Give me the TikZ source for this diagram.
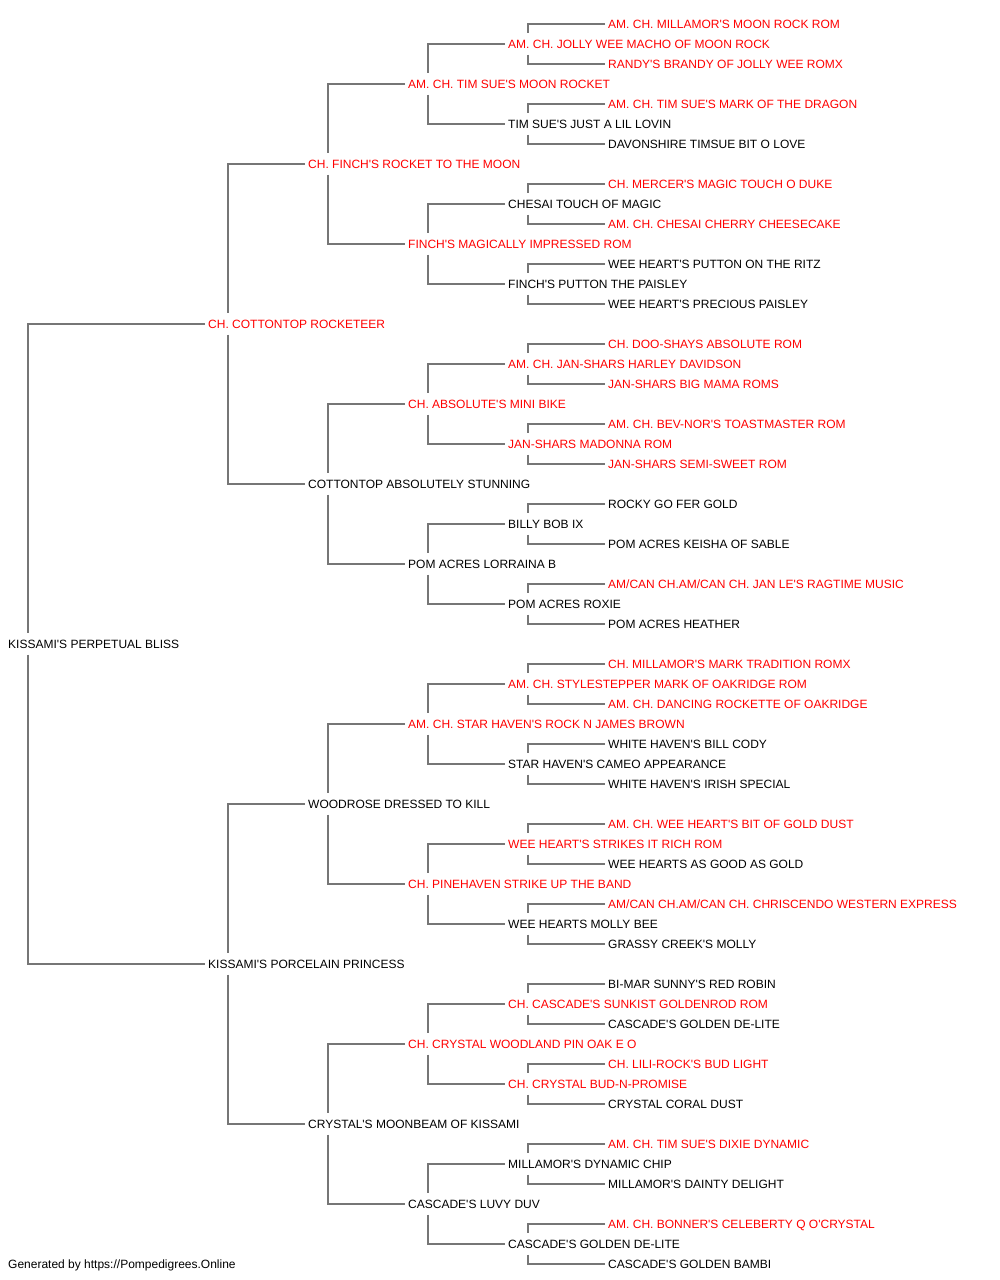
\documentclass[tikz,border=0pt]{standalone}
\usepackage{fontspec}
\setmainfont{Liberation Sans}[Ligatures=TeXOff]
\definecolor{pedred}{RGB}{255,0,0}
\definecolor{linegray}{RGB}{118,118,118}
\tikzset{
  nm/.style={anchor=west, inner xsep=3pt, inner ysep=0pt, text height=8.6pt, text depth=0pt,
    minimum height=21pt, font=\fontsize{12}{14}\selectfont},
  rd/.style={nm, text=pedred},
  bk/.style={nm, text=black},
  conn/.style={draw=linegray, line width=2pt}
}
\begin{document}
\begin{tikzpicture}[x=1pt,y=-1pt]
\useasboundingbox (0,0) rectangle (1000,1280);
\node[rd] (n0) at (605,24) {AM. CH. MILLAMOR'S MOON ROCK ROM};
\node[rd] (n1) at (505,44) {AM. CH. JOLLY WEE MACHO OF MOON ROCK};
\node[rd] (n2) at (605,64) {RANDY'S BRANDY OF JOLLY WEE ROMX};
\node[rd] (n3) at (405,84) {AM. CH. TIM SUE'S MOON ROCKET};
\node[rd] (n4) at (605,104) {AM. CH. TIM SUE'S MARK OF THE DRAGON};
\node[bk] (n5) at (505,124) {TIM SUE'S JUST A LIL LOVIN};
\node[bk] (n6) at (605,144) {DAVONSHIRE TIMSUE BIT O LOVE};
\node[rd] (n7) at (305,164) {CH. FINCH'S ROCKET TO THE MOON};
\node[rd] (n8) at (605,184) {CH. MERCER'S MAGIC TOUCH O DUKE};
\node[bk] (n9) at (505,204) {CHESAI TOUCH OF MAGIC};
\node[rd] (n10) at (605,224) {AM. CH. CHESAI CHERRY CHEESECAKE};
\node[rd] (n11) at (405,244) {FINCH'S MAGICALLY IMPRESSED ROM};
\node[bk] (n12) at (605,264) {WEE HEART'S PUTTON ON THE RITZ};
\node[bk] (n13) at (505,284) {FINCH'S PUTTON THE PAISLEY};
\node[bk] (n14) at (605,304) {WEE HEART'S PRECIOUS PAISLEY};
\node[rd] (n15) at (205,324) {CH. COTTONTOP ROCKETEER};
\node[rd] (n16) at (605,344) {CH. DOO-SHAYS ABSOLUTE ROM};
\node[rd] (n17) at (505,364) {AM. CH. JAN-SHARS HARLEY DAVIDSON};
\node[rd] (n18) at (605,384) {JAN-SHARS BIG MAMA ROMS};
\node[rd] (n19) at (405,404) {CH. ABSOLUTE'S MINI BIKE};
\node[rd] (n20) at (605,424) {AM. CH. BEV-NOR'S TOASTMASTER ROM};
\node[rd] (n21) at (505,444) {JAN-SHARS MADONNA ROM};
\node[rd] (n22) at (605,464) {JAN-SHARS SEMI-SWEET ROM};
\node[bk] (n23) at (305,484) {COTTONTOP ABSOLUTELY STUNNING};
\node[bk] (n24) at (605,504) {ROCKY GO FER GOLD};
\node[bk] (n25) at (505,524) {BILLY BOB IX};
\node[bk] (n26) at (605,544) {POM ACRES KEISHA OF SABLE};
\node[bk] (n27) at (405,564) {POM ACRES LORRAINA B};
\node[rd] (n28) at (605,584) {AM/CAN CH.AM/CAN CH. JAN LE'S RAGTIME MUSIC};
\node[bk] (n29) at (505,604) {POM ACRES ROXIE};
\node[bk] (n30) at (605,624) {POM ACRES HEATHER};
\node[bk] (n31) at (5,644) {KISSAMI'S PERPETUAL BLISS};
\node[rd] (n32) at (605,664) {CH. MILLAMOR'S MARK TRADITION ROMX};
\node[rd] (n33) at (505,684) {AM. CH. STYLESTEPPER MARK OF OAKRIDGE ROM};
\node[rd] (n34) at (605,704) {AM. CH. DANCING ROCKETTE OF OAKRIDGE};
\node[rd] (n35) at (405,724) {AM. CH. STAR HAVEN'S ROCK N JAMES BROWN};
\node[bk] (n36) at (605,744) {WHITE HAVEN'S BILL CODY};
\node[bk] (n37) at (505,764) {STAR HAVEN'S CAMEO APPEARANCE};
\node[bk] (n38) at (605,784) {WHITE HAVEN'S IRISH SPECIAL};
\node[bk] (n39) at (305,804) {WOODROSE DRESSED TO KILL};
\node[rd] (n40) at (605,824) {AM. CH. WEE HEART'S BIT OF GOLD DUST};
\node[rd] (n41) at (505,844) {WEE HEART'S STRIKES IT RICH ROM};
\node[bk] (n42) at (605,864) {WEE HEARTS AS GOOD AS GOLD};
\node[rd] (n43) at (405,884) {CH. PINEHAVEN STRIKE UP THE BAND};
\node[rd] (n44) at (605,904) {AM/CAN CH.AM/CAN CH. CHRISCENDO WESTERN EXPRESS};
\node[bk] (n45) at (505,924) {WEE HEARTS MOLLY BEE};
\node[bk] (n46) at (605,944) {GRASSY CREEK'S MOLLY};
\node[bk] (n47) at (205,964) {KISSAMI'S PORCELAIN PRINCESS};
\node[bk] (n48) at (605,984) {BI-MAR SUNNY'S RED ROBIN};
\node[rd] (n49) at (505,1004) {CH. CASCADE'S SUNKIST GOLDENROD ROM};
\node[bk] (n50) at (605,1024) {CASCADE'S GOLDEN DE-LITE};
\node[rd] (n51) at (405,1044) {CH. CRYSTAL WOODLAND PIN OAK E O};
\node[rd] (n52) at (605,1064) {CH. LILI-ROCK'S BUD LIGHT};
\node[rd] (n53) at (505,1084) {CH. CRYSTAL BUD-N-PROMISE};
\node[bk] (n54) at (605,1104) {CRYSTAL CORAL DUST};
\node[bk] (n55) at (305,1124) {CRYSTAL'S MOONBEAM OF KISSAMI};
\node[rd] (n56) at (605,1144) {AM. CH. TIM SUE'S DIXIE DYNAMIC};
\node[bk] (n57) at (505,1164) {MILLAMOR'S DYNAMIC CHIP};
\node[bk] (n58) at (605,1184) {MILLAMOR'S DAINTY DELIGHT};
\node[bk] (n59) at (405,1204) {CASCADE'S LUVY DUV};
\node[rd] (n60) at (605,1224) {AM. CH. BONNER'S CELEBERTY Q O'CRYSTAL};
\node[bk] (n61) at (505,1244) {CASCADE'S GOLDEN DE-LITE};
\node[bk] (n62) at (605,1264) {CASCADE'S GOLDEN BAMBI};
\node[bk] (footer) at (5,1264) {Generated by https://Pompedigrees.Online};
\foreach \p/\s/\d in {31/15/47,
  15/7/23, 47/39/55,
  7/3/11, 23/19/27, 39/35/43, 55/51/59,
  3/1/5, 11/9/13, 19/17/21, 27/25/29, 35/33/37, 43/41/45, 51/49/53, 59/57/61,
  1/0/2, 5/4/6, 9/8/10, 13/12/14, 17/16/18, 21/20/22, 25/24/26, 29/28/30,
  33/32/34, 37/36/38, 41/40/42, 45/44/46, 49/48/50, 53/52/54, 57/56/58, 61/60/62} {
  \draw[conn] (n\s.west) -| ([xshift=23pt]n\p.north west);
  \draw[conn] ([xshift=23pt]n\p.south west) |- (n\d.west);
}
\end{tikzpicture}
\end{document}
